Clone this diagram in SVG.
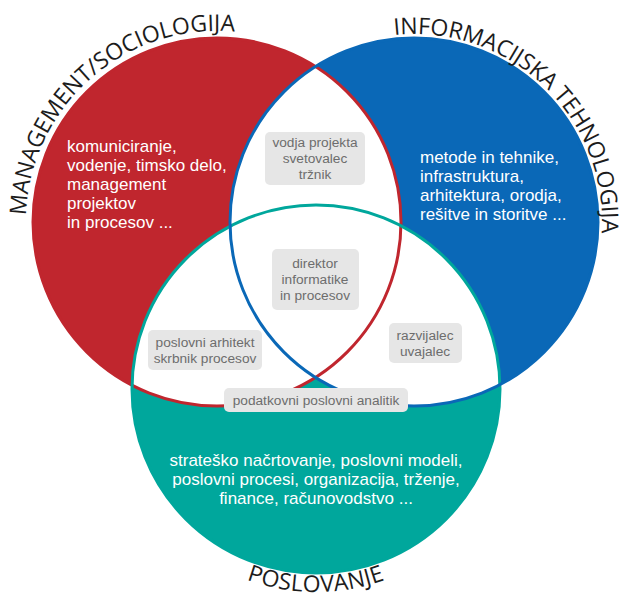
<svg xmlns="http://www.w3.org/2000/svg" xmlns:xlink="http://www.w3.org/1999/xlink" width="621" height="596" viewBox="0 0 621 596">
<style>
.title{font-family:"Open Sans","Noto Sans","DejaVu Sans",sans-serif;font-size:23px;fill:#1c1c1c}
.w{font-family:"Liberation Sans",Arial,sans-serif;font-size:17px;fill:#ffffff}
.lbl{font-family:"Liberation Sans",Arial,sans-serif;font-size:13.7px;fill:#6d6d6d;text-anchor:middle}
.box{fill:#e6e6e6}
.ol{fill:none;stroke-width:3}
</style>
<defs>
<circle id="cR" cx="217" cy="222" r="184"/>
<circle id="cB" cx="414" cy="222" r="184"/>
<circle id="cT" cx="316" cy="389" r="184"/>
<clipPath id="kB"><circle cx="414" cy="222" r="184"/></clipPath>
<clipPath id="kT"><circle cx="316" cy="389" r="184"/></clipPath>
<path id="pL" d="M 26.12 215.33 A 191 191 0 0 1 237 32"/>
<path id="pR" d="M 394.35 35.03 A 188 188 0 0 1 601.54 235.11"/>
<path id="pB" d="M 246.57 579.76 A 203 203 0 0 0 385.43 579.76"/>
</defs>
<g id="circle-fills">
<use xlink:href="#cR" fill="#c0262e"/>
<use xlink:href="#cB" fill="#0a68b7"/>
<use xlink:href="#cT" fill="#00a79c"/>
</g>
<g id="overlaps" fill="#ffffff">
<use xlink:href="#cR" clip-path="url(#kB)"/>
<use xlink:href="#cR" clip-path="url(#kT)"/>
<use xlink:href="#cB" clip-path="url(#kT)"/>
</g>
<g id="outlines">
<use xlink:href="#cR" class="ol" stroke="#c0262e"/>
<use xlink:href="#cT" class="ol" stroke="#00a79c"/>
<use xlink:href="#cB" class="ol" stroke="#0a68b7"/>
</g>
<g id="management">
<text class="title"><textPath xlink:href="#pL" textLength="311" lengthAdjust="spacing">MANAGEMENT/SOCIOLOGIJA</textPath></text>
<text class="w"><tspan x="67" y="152">komuniciranje,</tspan><tspan x="67" y="171">vodenje, timsko delo,</tspan><tspan x="67" y="190">management</tspan><tspan x="67" y="209">projektov</tspan><tspan x="67" y="228">in procesov ...</tspan></text>
</g>
<g id="informatics">
<text class="title"><textPath xlink:href="#pR" textLength="326" lengthAdjust="spacing">INFORMACIJSKA TEHNOLOGIJA</textPath></text>
<text class="w"><tspan x="420" y="163">metode in tehnike,</tspan><tspan x="420" y="182">infrastruktura,</tspan><tspan x="420" y="201">arhitektura, orodja,</tspan><tspan x="420" y="220">rešitve in storitve ...</tspan></text>
</g>
<g id="business">
<text class="title"><textPath xlink:href="#pB" textLength="141" lengthAdjust="spacing">POSLOVANJE</textPath></text>
<text class="w" text-anchor="middle"><tspan x="316" y="466">strateško načrtovanje, poslovni modeli,</tspan><tspan x="316" y="485">poslovni procesi, organizacija, trženje,</tspan><tspan x="316" y="504">finance, računovodstvo ...</tspan></text>
</g>
<g id="role-project-lead">
<rect class="box" x="265" y="132" width="100" height="53" rx="5"/>
<text class="lbl"><tspan x="315" y="147">vodja projekta</tspan><tspan x="315" y="163">svetovalec</tspan><tspan x="315" y="179">tržnik</tspan></text>
</g>
<g id="role-director">
<rect class="box" x="272" y="249" width="87" height="61" rx="5"/>
<text class="lbl"><tspan x="315" y="268">direktor</tspan><tspan x="315" y="284">informatike</tspan><tspan x="315" y="300">in procesov</tspan></text>
</g>
<g id="role-architect">
<rect class="box" x="148" y="330" width="114" height="40" rx="5"/>
<text class="lbl"><tspan x="205" y="347">poslovni arhitekt</tspan><tspan x="205" y="363">skrbnik procesov</tspan></text>
</g>
<g id="role-developer">
<rect class="box" x="389" y="323" width="73" height="40" rx="5"/>
<text class="lbl"><tspan x="425" y="340">razvijalec</tspan><tspan x="425" y="356">uvajalec</tspan></text>
</g>
<g id="role-analyst">
<rect class="box" x="224" y="388" width="184" height="24" rx="5"/>
<text class="lbl" x="316" y="405">podatkovni poslovni analitik</text>
</g>
</svg>
